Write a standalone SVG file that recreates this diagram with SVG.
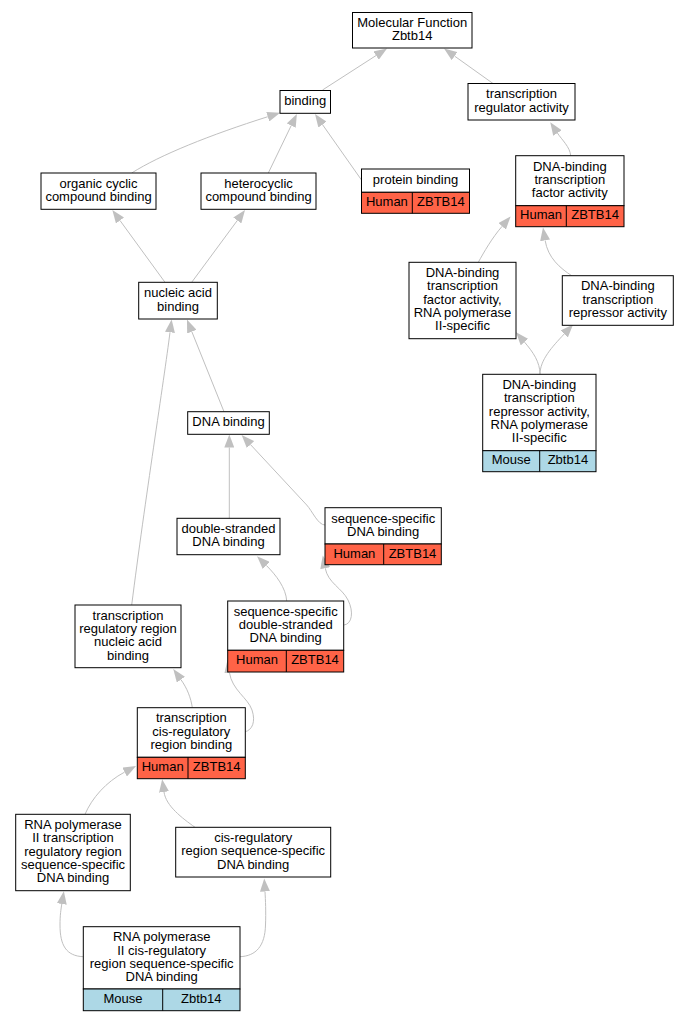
<svg xmlns="http://www.w3.org/2000/svg" width="688" height="1021" viewBox="0 0 688 1021">
<style>
.box{fill:#fff;stroke:#000;stroke-width:1}
.hum{fill:#ff6347;stroke:#000;stroke-width:1}
.mou{fill:#add8e6;stroke:#000;stroke-width:1}
.div{stroke:#000;stroke-width:1}
text{font-family:"Liberation Sans",Arial,sans-serif;font-size:13px;text-anchor:middle;fill:#000}
.e{fill:none;stroke:#c0c0c0;stroke-width:1;marker-end:url(#ah)}
</style>
<defs>
<marker id="ah" markerUnits="userSpaceOnUse" markerWidth="13" markerHeight="10" viewBox="0 0 13 10" refX="0" refY="5" orient="auto"><path d="M0,0 L13,5 L0,10 z" fill="#c0c0c0"/></marker>
</defs>
<rect width="688" height="1021" fill="#fff"/>
<g id="edges">
<path class="e" d="M322.5,90 L376.1,55.5"/>
<path class="e" d="M493,83.5 L454.6,56.1"/>
<path class="e" d="M131.7,173 C160,155 210,135 267.8,116.7"/>
<path class="e" d="M268.3,173 L291.2,125.6"/>
<path class="e" d="M361.5,180 L322.5,124.6"/>
<path class="e" d="M570.7,155.7 C570,147 562,140 557.4,133"/>
<path class="e" d="M165,282.3 L120,220.5"/>
<path class="e" d="M191.7,282.3 L237.3,220.5"/>
<path class="e" d="M478.3,262.3 C484,252 492,238 502.1,226.3"/>
<path class="e" d="M571.7,275.7 C560,268 548,258 545.1,240.4"/>
<path class="e" d="M540,374.3 C540,362 533,352 524.5,342.1"/>
<path class="e" d="M540,374.3 C540,360 552,347 564.2,334"/>
<path class="e" d="M224,411.7 L191.8,331.6"/>
<path class="e" d="M131.7,605 C145,500 164,380 170,332.3"/>
<path class="e" d="M229.3,518.3 L229.3,447.5"/>
<path class="e" d="M325,525 C318,525 312.1,510.8 306.7,505 L250.5,444.6"/>
<path class="e" d="M286.7,601 C286,588 276,575 266.3,565.4"/>
<path class="e" d="M344,625 C352,624 354,612 348,600 C342,588 328,583 325.2,568.2"/>
<path class="e" d="M192.3,707.7 C191,698 187,688 180.9,679.6"/>
<path class="e" d="M245.3,731.7 C252,730 256,722 252,710 C248,698 232,690 229.4,672.5"/>
<path class="e" d="M85,814.3 C92,798 106,782 124.6,772.1"/>
<path class="e" d="M195,827.3 C182,818 166,806 164,792"/>
<path class="e" d="M83.3,956.7 C66,956 60,945 60,925 C60,915 61,909 61.8,904"/>
<path class="e" d="M240,956.7 C256,956 265,946 265.5,925 C266,912 265.5,900 265,891.5"/>
</g>
<g id="n1"><rect class="box" x="352.5" y="12.5" width="119.5" height="35.5"/><text x="412.2" y="26.8">Molecular Function</text><text x="412.2" y="40.1">Zbtb14</text></g>
<g id="n2"><rect class="box" x="280" y="90.5" width="50.5" height="22.8"/><text x="305.2" y="105.1">binding</text></g>
<g id="n3"><rect class="box" x="468" y="83.5" width="107" height="36.5"/><text x="521.5" y="98.3">transcription</text><text x="521.5" y="111.6">regulator activity</text></g>
<g id="n4"><rect class="box" x="41" y="173" width="115" height="36.3"/><text x="98.5" y="187.8">organic cyclic</text><text x="98.5" y="201.1">compound binding</text></g>
<g id="n5"><rect class="box" x="201" y="173" width="115" height="36.3"/><text x="258.5" y="187.8">heterocyclic</text><text x="258.5" y="201.1">compound binding</text></g>
<g id="n6"><rect class="box" x="361.5" y="169" width="108" height="23.3"/><rect class="hum" x="361.5" y="192.3" width="108" height="21"/><line class="div" x1="412.3" y1="192.3" x2="412.3" y2="213.3"/><text x="415.5" y="183.8">protein binding</text><text x="386.9" y="206">Human</text><text x="440.9" y="206">ZBTB14</text></g>
<g id="n7"><rect class="box" x="515.7" y="155.7" width="108.3" height="50"/><rect class="hum" x="515.7" y="205.7" width="108.3" height="21"/><line class="div" x1="566.3" y1="205.7" x2="566.3" y2="226.7"/><text x="569.8" y="170.6">DNA-binding</text><text x="569.8" y="183.9">transcription</text><text x="569.8" y="197.2">factor activity</text><text x="541" y="219.4">Human</text><text x="595.1" y="219.4">ZBTB14</text></g>
<g id="n8"><rect class="box" x="138.7" y="282.3" width="78.6" height="36.7"/><text x="178" y="297.2">nucleic acid</text><text x="178" y="310.5">binding</text></g>
<g id="n9"><rect class="box" x="409" y="262.3" width="107" height="76.4"/><text x="462.5" y="277.1">DNA-binding</text><text x="462.5" y="290.4">transcription</text><text x="462.5" y="303.7">factor activity,</text><text x="462.5" y="317">RNA polymerase</text><text x="462.5" y="330.3">II-specific</text></g>
<g id="n10"><rect class="box" x="562.3" y="275.7" width="111" height="49.6"/><text x="617.8" y="290.4">DNA-binding</text><text x="617.8" y="303.7">transcription</text><text x="617.8" y="317">repressor activity</text></g>
<g id="n11"><rect class="box" x="482.7" y="374.3" width="113.3" height="76.4"/><rect class="mou" x="482.7" y="450.7" width="113.3" height="21"/><line class="div" x1="539.7" y1="450.7" x2="539.7" y2="471.7"/><text x="539.3" y="389.1">DNA-binding</text><text x="539.3" y="402.4">transcription</text><text x="539.3" y="415.7">repressor activity,</text><text x="539.3" y="429">RNA polymerase</text><text x="539.3" y="442.3">II-specific</text><text x="511.2" y="464.4">Mouse</text><text x="567.9" y="464.4">Zbtb14</text></g>
<g id="n12"><rect class="box" x="187.7" y="411.7" width="81.6" height="22.6"/><text x="228.5" y="426.2">DNA binding</text></g>
<g id="n13"><rect class="box" x="177" y="518.3" width="103" height="36.4"/><text x="228.5" y="533.1">double-stranded</text><text x="228.5" y="546.4">DNA binding</text></g>
<g id="n14"><rect class="box" x="325" y="507.7" width="116.3" height="36.3"/><rect class="hum" x="325" y="544" width="116.3" height="20.7"/><line class="div" x1="383.7" y1="544" x2="383.7" y2="564.7"/><text x="383.2" y="522.5">sequence-specific</text><text x="383.2" y="535.8">DNA binding</text><text x="354.4" y="557.5">Human</text><text x="412.5" y="557.5">ZBTB14</text></g>
<g id="n15"><rect class="box" x="75" y="605" width="106" height="62.7"/><text x="128" y="619.6">transcription</text><text x="128" y="632.9">regulatory region</text><text x="128" y="646.2">nucleic acid</text><text x="128" y="659.5">binding</text></g>
<g id="n16"><rect class="box" x="227.7" y="601" width="116" height="49.3"/><rect class="hum" x="227.7" y="650.3" width="116" height="21.7"/><line class="div" x1="286.3" y1="650.3" x2="286.3" y2="672"/><text x="285.7" y="615.6">sequence-specific</text><text x="285.7" y="628.9">double-stranded</text><text x="285.7" y="642.2">DNA binding</text><text x="257" y="664.4">Human</text><text x="315" y="664.4">ZBTB14</text></g>
<g id="n17"><rect class="box" x="137.3" y="707.7" width="108" height="49.6"/><rect class="hum" x="137.3" y="757.3" width="108" height="21.4"/><line class="div" x1="188" y1="757.3" x2="188" y2="778.7"/><text x="191.3" y="722.4">transcription</text><text x="191.3" y="735.7">cis-regulatory</text><text x="191.3" y="749">region binding</text><text x="162.7" y="771.2">Human</text><text x="216.7" y="771.2">ZBTB14</text></g>
<g id="n18"><rect class="box" x="15.7" y="814.3" width="114.6" height="76.4"/><text x="73" y="829.1">RNA polymerase</text><text x="73" y="842.4">II transcription</text><text x="73" y="855.7">regulatory region</text><text x="73" y="869">sequence-specific</text><text x="73" y="882.3">DNA binding</text></g>
<g id="n19"><rect class="box" x="175.7" y="827.3" width="155" height="49.7"/><text x="253.2" y="842.1">cis-regulatory</text><text x="253.2" y="855.4">region sequence-specific</text><text x="253.2" y="868.7">DNA binding</text></g>
<g id="n20"><rect class="box" x="83.3" y="926.7" width="156.7" height="62.3"/><rect class="mou" x="83.3" y="989" width="156.7" height="21.7"/><line class="div" x1="162.7" y1="989" x2="162.7" y2="1010.7"/><text x="161.7" y="941.2">RNA polymerase</text><text x="161.7" y="954.5">II cis-regulatory</text><text x="161.7" y="967.8">region sequence-specific</text><text x="161.7" y="981.1">DNA binding</text><text x="123" y="1003.2">Mouse</text><text x="201.3" y="1003.2">Zbtb14</text></g>
</svg>
